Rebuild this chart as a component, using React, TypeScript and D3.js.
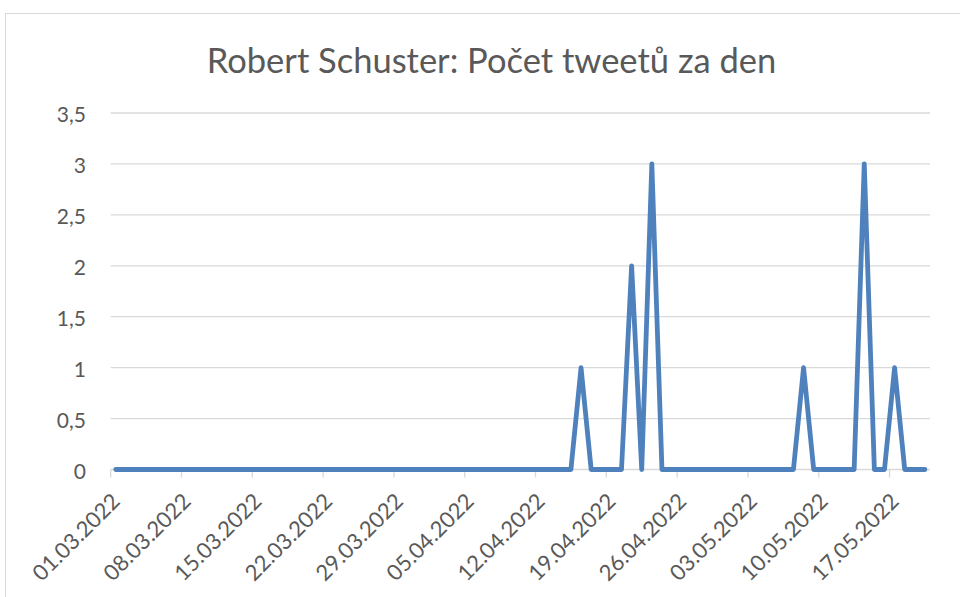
import React from 'react';
import * as d3 from 'd3';

const title = 'Robert Schuster: Počet tweetů za den';

const startDate = '2022-03-01';
const dayCount = 81;

// daily tweet counts, 01.03.2022 .. 20.05.2022
const counts = [
  0, 0, 0, 0, 0, 0, 0, 0, 0, 0,
  0, 0, 0, 0, 0, 0, 0, 0, 0, 0,
  0, 0, 0, 0, 0, 0, 0, 0, 0, 0,
  0, 0, 0, 0, 0, 0, 0, 0, 0, 0,
  0, 0, 0, 0, 0, 0, 1, 0, 0, 0,
  0, 2, 0, 3, 0, 0, 0, 0, 0, 0,
  0, 0, 0, 0, 0, 0, 0, 0, 1, 0,
  0, 0, 0, 0, 3, 0, 0, 1, 0, 0,
  0,
];

const xTickLabels = [
  '01.03.2022', '08.03.2022', '15.03.2022', '22.03.2022', '29.03.2022', '05.04.2022',
  '12.04.2022', '19.04.2022', '26.04.2022', '03.05.2022', '10.05.2022', '17.05.2022',
];

const yTicks = [0, 0.5, 1, 1.5, 2, 2.5, 3, 3.5];

const App = () => {
  const width = 960;
  const height = 597;
  const plot = { left: 110.7, right: 930, top: 113, bottom: 469.5 };

  const start = d3.utcParse('%Y-%m-%d')(startDate) as Date;
  const parseTick = d3.utcParse('%d.%m.%Y');

  const x = d3.scaleUtc()
    .domain([start, d3.utcDay.offset(start, dayCount)])
    .range([plot.left, plot.right]);

  const y = d3.scaleLinear()
    .domain([0, 3.5])
    .range([plot.bottom, plot.top]);

  // Excel date axis: points sit in the middle of each day's slot
  const points = counts.map((v, i) => ({
    date: d3.utcHour.offset(d3.utcDay.offset(start, i), 12),
    value: v,
  }));

  const line = d3.line<{ date: Date; value: number }>()
    .x(d => x(d.date))
    .y(d => y(d.value));

  const fmt = (v: number) => d3.format('')(v).replace('.', ',');
  const textColor = '#595959';
  const font = 'Lato, "Open Sans", sans-serif';

  return (
    <svg width={width} height={height}
      style={{ position: 'absolute', left: 0, top: 0, background: '#fff' }}>
      <rect x={5.5} y={13.5} width={980} height={620} fill="#fff" stroke="#d9d9d9" />

      <text x={491.5} y={73} textAnchor="middle" fontFamily={font} fontSize={34.5} fill={textColor}>
        {title}
      </text>

      {/* gridlines */}
      {yTicks.map(t => (
        <line key={t} x1={plot.left} x2={plot.right} y1={y(t)} y2={y(t)}
          stroke="#d9d9d9" strokeWidth={1.3} />
      ))}

      {/* y labels */}
      {yTicks.map(t => (
        <text key={'l' + t} x={86} y={y(t) + 1.5} dy="0.36em" textAnchor="end"
          fontFamily={font} fontSize={21} fill={textColor}>
          {fmt(t)}
        </text>
      ))}

      {/* x ticks and labels */}
      {xTickLabels.map(lbl => {
        const d = parseTick(lbl) as Date;
        const tx = x(d);
        const cx = x(d3.utcHour.offset(d, 12));
        return (
          <g key={lbl}>
            <line x1={tx} x2={tx} y1={plot.bottom} y2={plot.bottom + 8} stroke="#d9d9d9" strokeWidth={1.3} />
            <text transform={`translate(${cx},497) rotate(-45)`} dy="0.36em" textAnchor="end"
              fontFamily={font} fontSize={22} fill={textColor}>
              {lbl}
            </text>
          </g>
        );
      })}

      <path d={line(points) || ''} fill="none" stroke="#4f81bd" strokeWidth={4.8}
        strokeLinejoin="round" strokeLinecap="round" />
    </svg>
  );
};

export default App;
